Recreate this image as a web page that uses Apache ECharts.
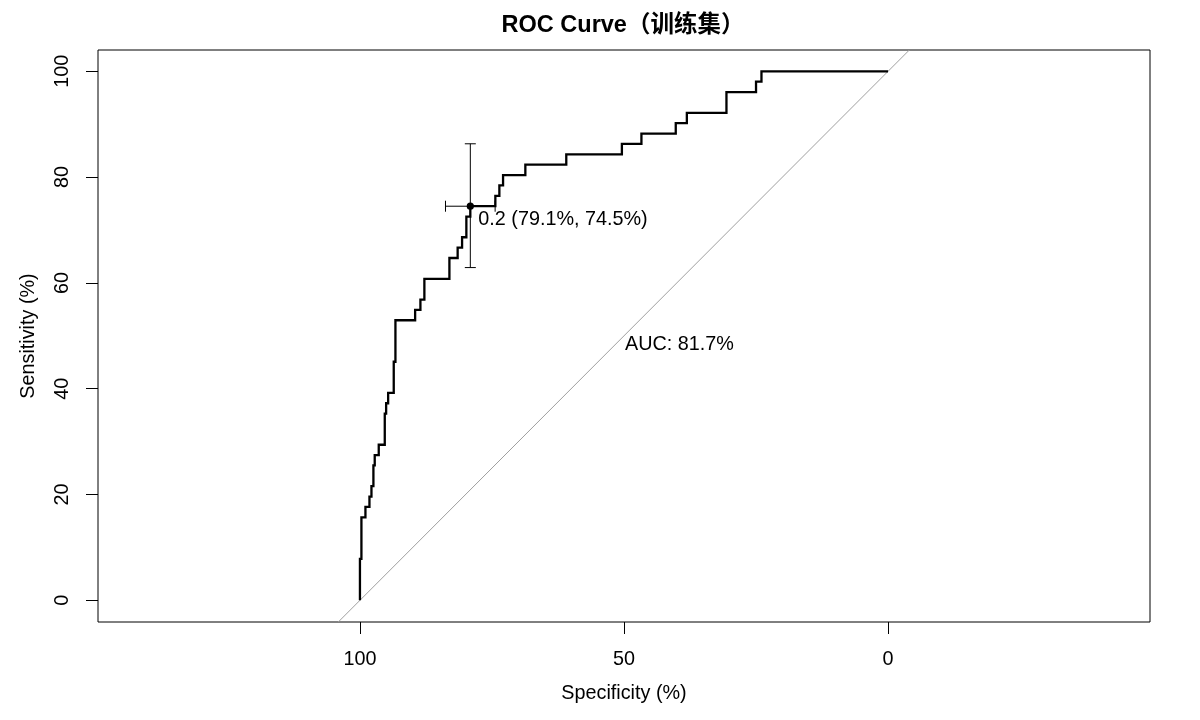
<!DOCTYPE html>
<html><head><meta charset="utf-8">
<script src="https://cdn.jsdelivr.net/npm/echarts@6/dist/echarts.min.js"></script>
<style>html,body{margin:0;padding:0;background:#fff}#c{width:1200px;height:720px}</style>
</head><body><div id="c"></div>
<script>
// ROC curve vertices (specificity %, sensitivity %)
const rocSpec = [100,100,99.72,99.72,98.96,98.96,98.2,98.2,97.82,97.82,97.45,97.45,97.2,97.2,96.44,96.44,95.3,95.3,95.04,95.04,94.66,94.66,93.6,93.6,93.28,93.28,89.55,89.55,88.55,88.55,87.8,87.8,83.06,83.06,81.5,81.5,80.66,80.66,79.85,79.85,79.1,79.1,74.36,74.36,73.6,73.6,72.9,72.9,68.68,68.68,60.93,60.93,50.4,50.4,46.7,46.7,40.2,40.2,38.1,38.1,30.6,30.6,25.0,25.0,23.97,23.97,0];
const rocSens = [0,7.84,7.84,15.69,15.69,17.65,17.65,19.61,19.61,21.57,21.57,25.49,25.49,27.45,27.45,29.41,29.41,35.29,35.29,37.25,37.25,39.22,39.22,45.1,45.1,52.94,52.94,54.9,54.9,56.86,56.86,60.78,60.78,64.71,64.71,66.67,66.67,68.63,68.63,72.55,72.55,74.51,74.51,76.47,76.47,78.43,78.43,80.39,80.39,82.35,82.35,84.31,84.31,86.27,86.27,88.24,88.24,90.2,90.2,92.16,92.16,96.08,96.08,98.04,98.04,100,100];
// best threshold and its confidence intervals
const thrLabel = '0.2 (79.1%, 74.5%)';
const thrSpec = 79.1, thrSens = 74.5;
const thrSpecCI = [74.4, 83.8];
const thrSensCI = [62.9, 86.3];
const aucLabel = 'AUC: 81.7%';
const aucPos = [50, 50];
// chance line end points
const chanceA = [100, 0], chanceB = [0, 100];
const xTicks = [0, 50, 100];
const yTicks = [0, 20, 40, 60, 80, 100];
const titleText = 'ROC Curve（训练集）';

const FONT = '"Liberation Sans", Arial, "Noto Sans CJK SC", sans-serif';
const FS = 19.8;
const chart = echarts.init(document.getElementById('c'), null, {renderer: 'canvas'});
const rocData = rocSpec.map((s, i) => [s, rocSens[i]]);

chart.setOption({
  animation: false,
  backgroundColor: '#fff',
  title: {
    text: titleText, left: 618, top: 9, textAlign: 'center',
    textStyle: {fontFamily: '"Liberation Sans", "Noto Sans CJK SC", sans-serif', fontSize: 23.5, fontWeight: 'bold', color: '#000'}
  },
  grid: {left: 98, right: 50, top: 50, bottom: 98, show: true, borderColor: '#000', borderWidth: 1, backgroundColor: 'transparent'},
  xAxis: {
    type: 'value', min: -49.6, max: 149.6, inverse: true,
    name: 'Specificity (%)', nameLocation: 'middle', nameGap: 62,
    nameTextStyle: {fontFamily: FONT, fontSize: FS, color: '#000'},
    axisLine: {show: false, onZero: false},
    axisTick: {show: true, length: 12, customValues: xTicks, lineStyle: {color: '#000', width: 1}},
    axisLabel: {customValues: xTicks, margin: 28, fontFamily: FONT, fontSize: FS, color: '#000'},
    splitLine: {show: false}
  },
  yAxis: {
    type: 'value', min: -4.1, max: 104.03,
    name: 'Sensitivity (%)', nameLocation: 'middle', nameGap: 60, nameRotate: 90,
    nameTextStyle: {fontFamily: FONT, fontSize: FS, color: '#000'},
    axisLine: {show: false, onZero: false},
    axisTick: {show: true, length: 12, customValues: yTicks, lineStyle: {color: '#000', width: 1}},
    axisLabel: {customValues: yTicks, rotate: 90, margin: 26, fontFamily: FONT, fontSize: FS, color: '#000'},
    splitLine: {show: false}
  },
  series: [
    {
      type: 'custom', clip: true, silent: true, z: 1,
      data: [[chanceA[0], chanceA[1], chanceB[0], chanceB[1]]],
      renderItem: function (params, api) {
        const a = api.coord([api.value(0), api.value(1)]);
        const b = api.coord([api.value(2), api.value(3)]);
        const dx = b[0] - a[0], dy = b[1] - a[1];
        return {type: 'line', shape: {x1: a[0] - dx, y1: a[1] - dy, x2: b[0] + dx, y2: b[1] + dy},
          style: {stroke: '#a0a0a0', lineWidth: 1}};
      }
    },
    {
      type: 'custom', silent: true, z: 3,
      data: rocData,
      renderItem: function (params, api) {
        if (params.dataIndex !== 0) return null;
        const pts = rocData.map(d => api.coord(d));
        return {type: 'polyline', shape: {points: pts},
          style: {stroke: '#000', lineWidth: 2.3, fill: null, lineJoin: 'miter'}};
      }
    },
    {
      type: 'custom', silent: true, z: 4,
      data: [[thrSpec, thrSens]],
      renderItem: function (params, api) {
        const c = api.coord([thrSpec, thrSens]);
        const l = api.coord([thrSpecCI[1], thrSens]);
        const r = api.coord([thrSpecCI[0], thrSens]);
        const t = api.coord([thrSpec, thrSensCI[1]]);
        const b = api.coord([thrSpec, thrSensCI[0]]);
        const h = 5.5;
        const st = {stroke: '#000', lineWidth: 1};
        return {type: 'group', children: [
          {type: 'line', shape: {x1: l[0], y1: l[1], x2: r[0], y2: r[1]}, style: st},
          {type: 'line', shape: {x1: l[0], y1: l[1] - h, x2: l[0], y2: l[1] + h}, style: st},
          {type: 'line', shape: {x1: r[0], y1: r[1] - h, x2: r[0], y2: r[1] + h}, style: st},
          {type: 'line', shape: {x1: t[0], y1: t[1], x2: b[0], y2: b[1]}, style: st},
          {type: 'line', shape: {x1: t[0] - h, y1: t[1], x2: t[0] + h, y2: t[1]}, style: st},
          {type: 'line', shape: {x1: b[0] - h, y1: b[1], x2: b[0] + h, y2: b[1]}, style: st},
          {type: 'circle', shape: {cx: c[0], cy: c[1], r: 3.6}, style: {fill: '#000'}},
          {type: 'text', x: c[0] + 8, y: c[1] + 13, style: {text: thrLabel, fill: '#000', font: FS + 'px ' + FONT, align: 'left', verticalAlign: 'middle'}}
        ]};
      }
    },
    {
      type: 'custom', silent: true, z: 4,
      data: [aucPos],
      renderItem: function (params, api) {
        const p = api.coord([api.value(0), api.value(1)]);
        return {type: 'text', x: p[0] + 1, y: p[1] + 9, style: {text: aucLabel, fill: '#000', font: FS + 'px ' + FONT, align: 'left', verticalAlign: 'middle'}};
      }
    }
  ]
});
</script>
</body></html>
